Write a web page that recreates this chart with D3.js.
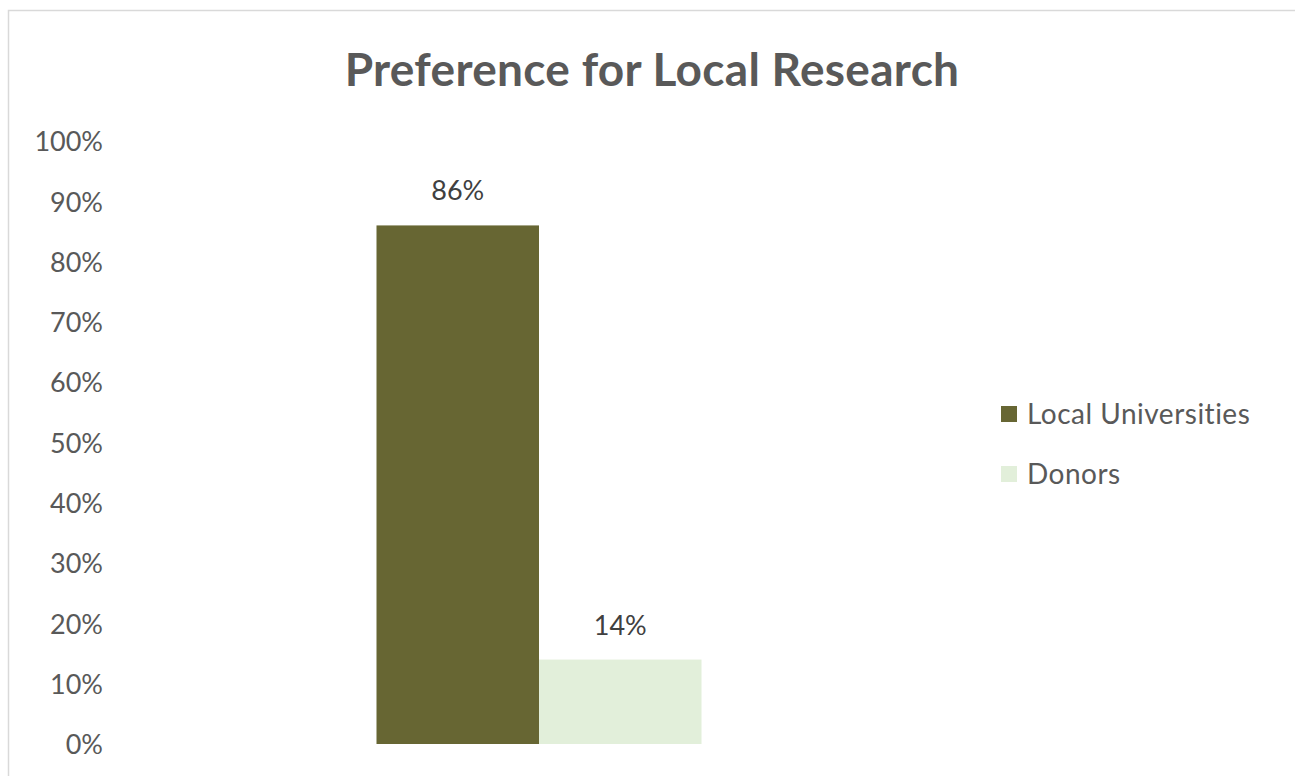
<!DOCTYPE html>
<html>
<head>
<meta charset="utf-8">
<script src="https://cdn.jsdelivr.net/npm/d3@7/dist/d3.min.js"></script>
<style>
  html, body { margin: 0; padding: 0; background: #ffffff; }
  svg { display: block; font-family: Lato, "Open Sans", sans-serif; }
</style>
</head>
<body>
<svg id="chart" width="1295" height="776"></svg>
<script>
// Survey result: who respondents prefer to conduct local research
const categories = ["Preference"];
const seriesNames = ["Local Universities", "Donors"];
const seriesValues = [86, 14];
const seriesColors = ["#676633", "#e2efda"];
const yTicks = [0, 10, 20, 30, 40, 50, 60, 70, 80, 90, 100];

const svg = d3.select("#chart");
const W = 1295, H = 776;

// chart frame
svg.append("rect")
  .attr("x", 8.5).attr("y", 10.5)
  .attr("width", W + 10).attr("height", H + 10)
  .attr("fill", "none").attr("stroke", "#d9d9d9").attr("stroke-width", 1.5);

const plot = { left: 115, right: 963, top: 141, bottom: 744 };

const y = d3.scaleLinear().domain([0, 100]).range([plot.bottom, plot.top]);

const x0 = d3.scaleBand().domain(categories)
  .range([plot.left, plot.right])
  .paddingInner(0).paddingOuter(0.8046);

const x1 = d3.scaleBand().domain(seriesNames)
  .range([0, x0.bandwidth()]).padding(0);

// title
svg.append("text")
  .attr("x", 652).attr("y", 86)
  .attr("text-anchor", "middle")
  .attr("font-size", 46).attr("font-weight", 700)
  .attr("letter-spacing", 0.3)
  .attr("fill", "#595959")
  .text("Preference for Local Research");

// y axis labels (no axis line, no gridlines)
const yAxis = d3.axisLeft(y)
  .tickValues(yTicks)
  .tickFormat(d => d + "%")
  .tickSize(0).tickPadding(0);

const yg = svg.append("g")
  .attr("transform", `translate(103,0)`)
  .call(yAxis);
yg.select(".domain").remove();
yg.selectAll("text")
  .attr("font-size", 27)
  .attr("font-family", "Lato, 'Open Sans', sans-serif")
  .attr("fill", "#595959")
  .attr("dy", "0.36em");

// bars
const rows = seriesNames.map((name, i) => ({ cat: categories[0], name, value: seriesValues[i], color: seriesColors[i] }));

const g = svg.append("g");
g.selectAll("rect.bar")
  .data(rows)
  .join("rect")
  .attr("class", "bar")
  .attr("x", d => x0(d.cat) + x1(d.name))
  .attr("width", x1.bandwidth())
  .attr("y", d => y(d.value))
  .attr("height", d => y(0) - y(d.value))
  .attr("fill", d => d.color);

// value labels
g.selectAll("text.val")
  .data(rows)
  .join("text")
  .attr("class", "val")
  .attr("x", d => x0(d.cat) + x1(d.name) + x1.bandwidth() / 2)
  .attr("y", d => y(d.value) - 25)
  .attr("text-anchor", "middle")
  .attr("font-size", 27)
  .attr("fill", "#404040")
  .text(d => d.value + "%");

// legend
const legend = svg.append("g").attr("transform", "translate(1001,0)");
const li = legend.selectAll("g")
  .data(rows)
  .join("g")
  .attr("transform", (d, i) => `translate(0,${414 + i * 60})`);
li.append("rect")
  .attr("x", 0).attr("y", -8)
  .attr("width", 16).attr("height", 16)
  .attr("fill", d => d.color);
li.append("text")
  .attr("x", 26).attr("y", 0)
  .attr("dy", "0.36em")
  .attr("font-size", 28)
  .attr("letter-spacing", 0.5)
  .attr("fill", "#595959")
  .text(d => d.name);
</script>
</body>
</html>
